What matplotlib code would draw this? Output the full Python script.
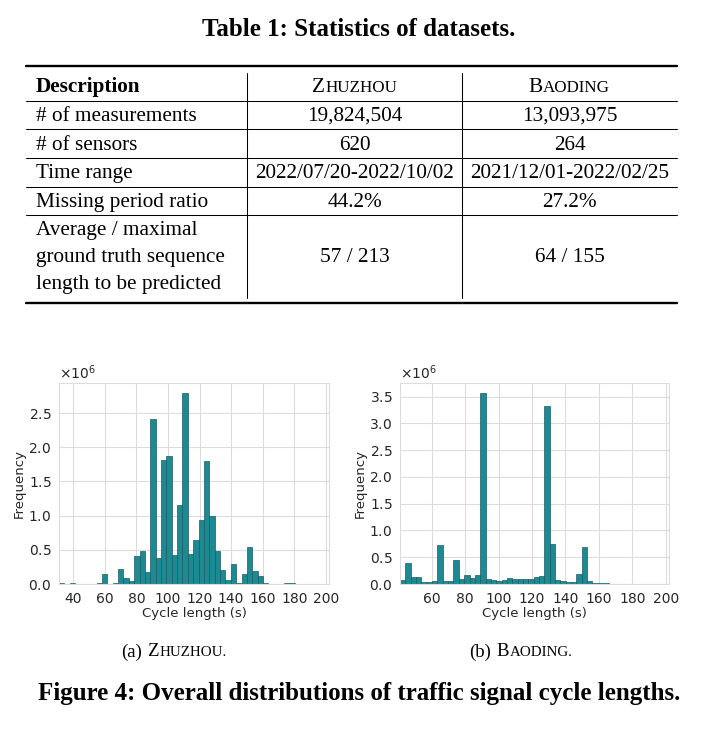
import matplotlib
matplotlib.use('Agg')
import matplotlib.pyplot as plt
import numpy as np
import seaborn as sns
from matplotlib.lines import Line2D
from matplotlib.ticker import MultipleLocator

# ---- table data ----
col_names = ['Description', 'Zhuzhou', 'Baoding']
row_labels = ['# of measurements', '# of sensors', 'Time range', 'Missing period ratio']
zz_vals = ['19,824,504', '620', '2022/07/20-2022/10/02', '44.2%']
bd_vals = ['13,093,975', '264', '2021/12/01-2022/02/25', '27.2%']
last_label = ['Average / maximal', 'ground truth sequence', 'length to be predicted']
last_vals = ['57 / 213', '64 / 155']

# ---- histogram data (counts in millions, 50 bins) ----
zz_range = (31, 201)
zz_counts = [0.01, 0.0, 0.01, 0.0, 0.0, 0.0, 0.0, 0.02, 0.14, 0.0,
             0.01, 0.225, 0.085, 0.045, 0.41, 0.485, 0.18, 2.42, 0.38, 1.82,
             1.87, 0.43, 1.15, 2.80, 0.44, 0.65, 0.94, 1.80, 0.99, 0.485,
             0.206, 0.06, 0.29, 0.01, 0.147, 0.54, 0.19, 0.11, 0.015, 0.003,
             0.0, 0.0, 0.01, 0.01, 0.003, 0.0, 0.0, 0.0, 0.0, 0.0]
bd_range = (41, 201)
bd_counts = [0.069, 0.39, 0.125, 0.125, 0.04, 0.045, 0.05, 0.725, 0.05, 0.05,
             0.45, 0.09, 0.17, 0.11, 0.17, 3.575, 0.095, 0.075, 0.05, 0.075,
             0.11, 0.09, 0.09, 0.10, 0.10, 0.14, 0.15, 3.325, 0.745, 0.075,
             0.065, 0.045, 0.045, 0.19, 0.70, 0.06, 0.025, 0.02, 0.01, 0.008,
             0.006, 0.004, 0.002, 0.001, 0.0, 0.0, 0.0, 0.0, 0.0, 0.0]

W, H = 718, 733
sns.set_style('whitegrid')
plt.rcParams['font.family'] = ['DejaVu Sans']
serif = 'Liberation Serif'

fig = plt.figure(figsize=(W / 100, H / 100), dpi=100)
r = fig.canvas.get_renderer()


def fx(x):
    return x / W


def fy(y):
    return 1 - y / H


def hline(y, x0, x1, lw):
    fig.add_artist(Line2D([fx(x0), fx(x1)], [fy(y), fy(y)], color='black',
                          lw=lw, transform=fig.transFigure))


def vline(x, y0, y1, lw):
    fig.add_artist(Line2D([fx(x), fx(x)], [fy(y0), fy(y1)], color='black',
                          lw=lw, transform=fig.transFigure))


def smallcaps(xc, y, pieces, weight='normal'):
    # pieces: (text, fontsize, gap before in px)
    arts = [fig.text(0, fy(y), s, fontsize=fs, family=serif, va='baseline',
                     weight=weight, color='black') for s, fs, g in pieces]
    widths = [a.get_window_extent(r).width for a in arts]
    total = sum(widths) + sum(g for _, _, g in pieces)
    x = xc - total / 2
    for a, w, p in zip(arts, widths, pieces):
        x += p[2]
        a.set_x(fx(x))
        x += w


fs = 15.3
# title
fig.text(0.5, fy(36.5), 'Table 1: Statistics of datasets.', family=serif,
         weight='bold', fontsize=18, ha='center', va='baseline', color='black')

# rules
hline(65.5, 26, 677, 1.7)
for y in [100.7, 129, 157.7, 186.7, 215.3]:
    hline(y, 26, 677, 0.75)
hline(303, 26, 677, 1.7)
vline(247, 73, 298, 0.75)
vline(462, 73, 298, 0.75)

c1, c2 = 354.5, 569.5
fig.text(fx(36), fy(92.3), col_names[0], family=serif, weight='bold',
         fontsize=fs, va='baseline', color='black')
smallcaps(c1, 92.3, [(col_names[1][0], fs, 0), (col_names[1][1:].upper(), fs * 0.8, 0.5)])
smallcaps(c2, 92.3, [(col_names[2][0], fs, 0), (col_names[2][1:].upper(), fs * 0.8, 0.5)])

base = [121, 149.6, 178.3, 207]
for y, lab, a, b in zip(base, row_labels, zz_vals, bd_vals):
    fig.text(fx(36), fy(y), lab, family=serif, fontsize=fs, va='baseline', color='black')
    fig.text(fx(c1), fy(y), a, family=serif, fontsize=fs, va='baseline', ha='center', color='black')
    fig.text(fx(c2), fy(y), b, family=serif, fontsize=fs, va='baseline', ha='center', color='black')

for y, lab in zip([235, 262, 288.5], last_label):
    fig.text(fx(36), fy(y), lab, family=serif, fontsize=fs, va='baseline', color='black')
fig.text(fx(c1), fy(262), last_vals[0], family=serif, fontsize=fs, va='baseline', ha='center', color='black')
fig.text(fx(c2), fy(262), last_vals[1], family=serif, fontsize=fs, va='baseline', ha='center', color='black')

# ---- histograms ----
bar_color = '#1b8a92'
edge_color = '#1d5a60'


def hist_panel(rect, rng, counts, ticks):
    ax = fig.add_axes(rect)
    counts = np.array(counts) * 1e6
    edges = np.linspace(rng[0], rng[1], len(counts) + 1)
    ax.bar(edges[:-1], counts, width=np.diff(edges), align='edge',
           color=bar_color, edgecolor=edge_color, linewidth=0.5)
    ax.set_xlim(rng[0], rng[1] + 1)
    ax.set_xticks(ticks)
    ax.yaxis.set_major_locator(MultipleLocator(0.5e6))
    ax.ticklabel_format(axis='y', style='sci', scilimits=(0, 0), useMathText=True)
    ax.yaxis.get_offset_text().set_fontsize(10)
    ax.tick_params(labelsize=10, colors='.15', pad=2)
    ax.set_xlabel('Cycle length (s)', fontsize=9.5, labelpad=1)
    ax.set_ylabel('Frequency', fontsize=9.5, labelpad=2)
    ax.grid(True, color='#dcdcdc', lw=0.8)
    for s in ax.spines.values():
        s.set_color('#dcdcdc')
    return ax


hist_panel([fx(59), fy(584), 270 / W, 201 / H], zz_range, zz_counts,
           np.arange(40, 201, 20))
hist_panel([fx(400), fy(584), 269 / W, 201 / H], bd_range, bd_counts,
           np.arange(60, 201, 20))

# captions
cfs = 13.5
smallcaps(174, 656.5, [('(a)', cfs, 0), ('Z', cfs, 5), ('HUZHOU.', cfs * 0.8, 0.5)])
smallcaps(521, 656.5, [('(b)', cfs, 0), ('B', cfs, 5), ('AODING.', cfs * 0.8, 0.5)])
fig.text(0.5, fy(700), 'Figure 4: Overall distributions of traffic signal cycle lengths.',
         family=serif, weight='bold', fontsize=18, ha='center', va='baseline', color='black')

fig.savefig('out.png', dpi=100)
